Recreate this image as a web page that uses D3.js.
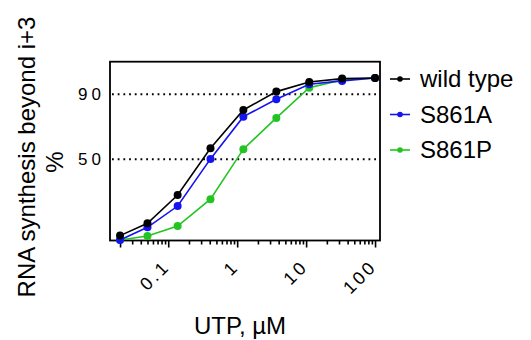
<!DOCTYPE html>
<head>
    <title>RNA synthesis beyond i+3</title>
    <style>
        body { margin: 0; background: #fff; }
        text { font-family: Arial, "Liberation Sans", sans-serif; fill: #000; }
    </style>
</head>
<body>
<script src="https://cdn.jsdelivr.net/npm/d3@7"></script>
<script type="text/javascript">
    // data (UTP concentration in uM, % synthesis)
    var utp = [0.02, 0.05, 0.137, 0.41, 1.23, 3.7, 11.1, 33.3, 100];
    var wildType = [3.0, 10.6, 28, 56.7, 80.3, 91.6, 97.5, 99.6, 100];
    var s861A = [0.3, 8.1, 21.2, 50.2, 76.2, 86.9, 96.1, 98.2, 100];
    var s861P = [0.3, 2.8, 8.9, 25.4, 56.2, 75.4, 94, 98.8, 100];
    var seriesNames = ["wild type", "S861A", "S861P"];
    var seriesColors = ["#000000", "#1414f0", "#22c422"];
    var xTickValues = [0.1, 1, 10, 100];
    var xTickLabels = ["0.1", "1", "10", "100"];
    var yTickValues = [50, 90];
    var yTickLabels = ["50", "90"];
    var refLines = [50, 90];

    var width = 531, height = 340;
    var plotLeft = 110, plotRight = 380, plotTop = 61.7, plotBottom = 240.5;

    var svg = d3.select("body").append("svg")
        .attr("width", width)
        .attr("height", height);

    var x = d3.scaleLog().domain([0.0143, 118]).range([plotLeft, plotRight]);
    var y = d3.scaleLinear().domain([0, 110]).range([plotBottom, plotTop]);

    // dotted reference lines
    svg.selectAll(".ref").data(refLines).enter().append("line")
        .attr("x1", plotLeft + 2).attr("x2", plotRight - 1)
        .attr("y1", function (d) { return y(d); })
        .attr("y2", function (d) { return y(d); })
        .attr("stroke", "#000")
        .attr("stroke-width", 2)
        .attr("stroke-dasharray", "1.8,3.9");

    // frame
    svg.append("rect")
        .attr("x", plotLeft).attr("y", plotTop)
        .attr("width", plotRight - plotLeft).attr("height", plotBottom - plotTop)
        .attr("fill", "none").attr("stroke", "#000").attr("stroke-width", 1.8);

    // x axis ticks (log minor ticks from the scale)
    var allTicks = x.ticks().filter(function (d) { return d >= 0.0199 && d <= 100.01; });
    var xAxis = d3.axisBottom(x)
        .tickValues(allTicks)
        .tickSize(4)
        .tickFormat("");
    var gx = svg.append("g")
        .attr("transform", "translate(0," + plotBottom + ")")
        .call(xAxis);
    gx.select(".domain").remove();
    gx.selectAll(".tick line")
        .attr("stroke-width", 1.6)
        .attr("y2", function (d, i) {
            var major = xTickValues.some(function (v) { return Math.abs(v - d) < 1e-9; });
            return (major || i === 0) ? 7 : 4;
        });

    // rotated x tick labels
    svg.selectAll(".xlab").data(xTickValues).enter().append("text")
        .attr("text-anchor", "end")
        .style("font-size", "18px")
        .style("letter-spacing", "3px")
        .attr("transform", function (d) {
            return "translate(" + (x(d) + 3) + "," + (plotBottom + 27) + ") rotate(-45)";
        })
        .text(function (d, i) { return xTickLabels[i]; });

    // y tick labels
    svg.selectAll(".ylab").data(yTickValues).enter().append("text")
        .attr("text-anchor", "end")
        .style("font-size", "17px")
        .style("letter-spacing", "4px")
        .attr("x", plotLeft - 5)
        .attr("y", function (d) { return y(d) + 6; })
        .text(function (d, i) { return yTickLabels[i]; });

    // series, drawn back to front
    var allSeries = [wildType, s861A, s861P];
    var line = d3.line()
        .x(function (d) { return x(d[0]); })
        .y(function (d) { return y(d[1]); });

    [2, 1, 0].forEach(function (k) {
        var pts = utp.map(function (u, i) { return [u, allSeries[k][i]]; });
        svg.append("path")
            .datum(pts)
            .attr("d", line)
            .attr("fill", "none")
            .attr("stroke", seriesColors[k])
            .attr("stroke-width", 1.6);
        svg.selectAll(".pt" + k).data(pts).enter().append("circle")
            .attr("cx", function (d) { return x(d[0]); })
            .attr("cy", function (d) { return y(d[1]); })
            .attr("r", 4)
            .attr("fill", seriesColors[k]);
    });

    // legend
    var legend = svg.selectAll(".legend").data(seriesNames).enter().append("g")
        .attr("transform", function (d, i) { return "translate(390," + (79 + i * 35.5) + ")"; });
    legend.append("line")
        .attr("x1", 0).attr("x2", 20)
        .attr("stroke", function (d, i) { return seriesColors[i]; })
        .attr("stroke-width", 1.6);
    legend.append("circle")
        .attr("cx", 10).attr("r", 2.8)
        .attr("fill", function (d, i) { return seriesColors[i]; });
    legend.append("text")
        .attr("x", 30).attr("y", 8)
        .style("font-size", "24px")
        .text(function (d) { return d; });

    // axis titles
    svg.append("text")
        .attr("text-anchor", "middle")
        .attr("x", 240).attr("y", 334)
        .style("font-size", "24px")
        .text("UTP, \u00b5M");

    var yTitle = svg.append("text")
        .attr("text-anchor", "middle")
        .attr("transform", "translate(35,157) rotate(-90)")
        .style("font-size", "24px");
    yTitle.append("tspan").attr("x", 0).attr("y", 0)
        .text("RNA synthesis beyond i+3");
    yTitle.append("tspan").attr("x", -5).attr("y", 28)
        .text("%");
</script>
</body>
